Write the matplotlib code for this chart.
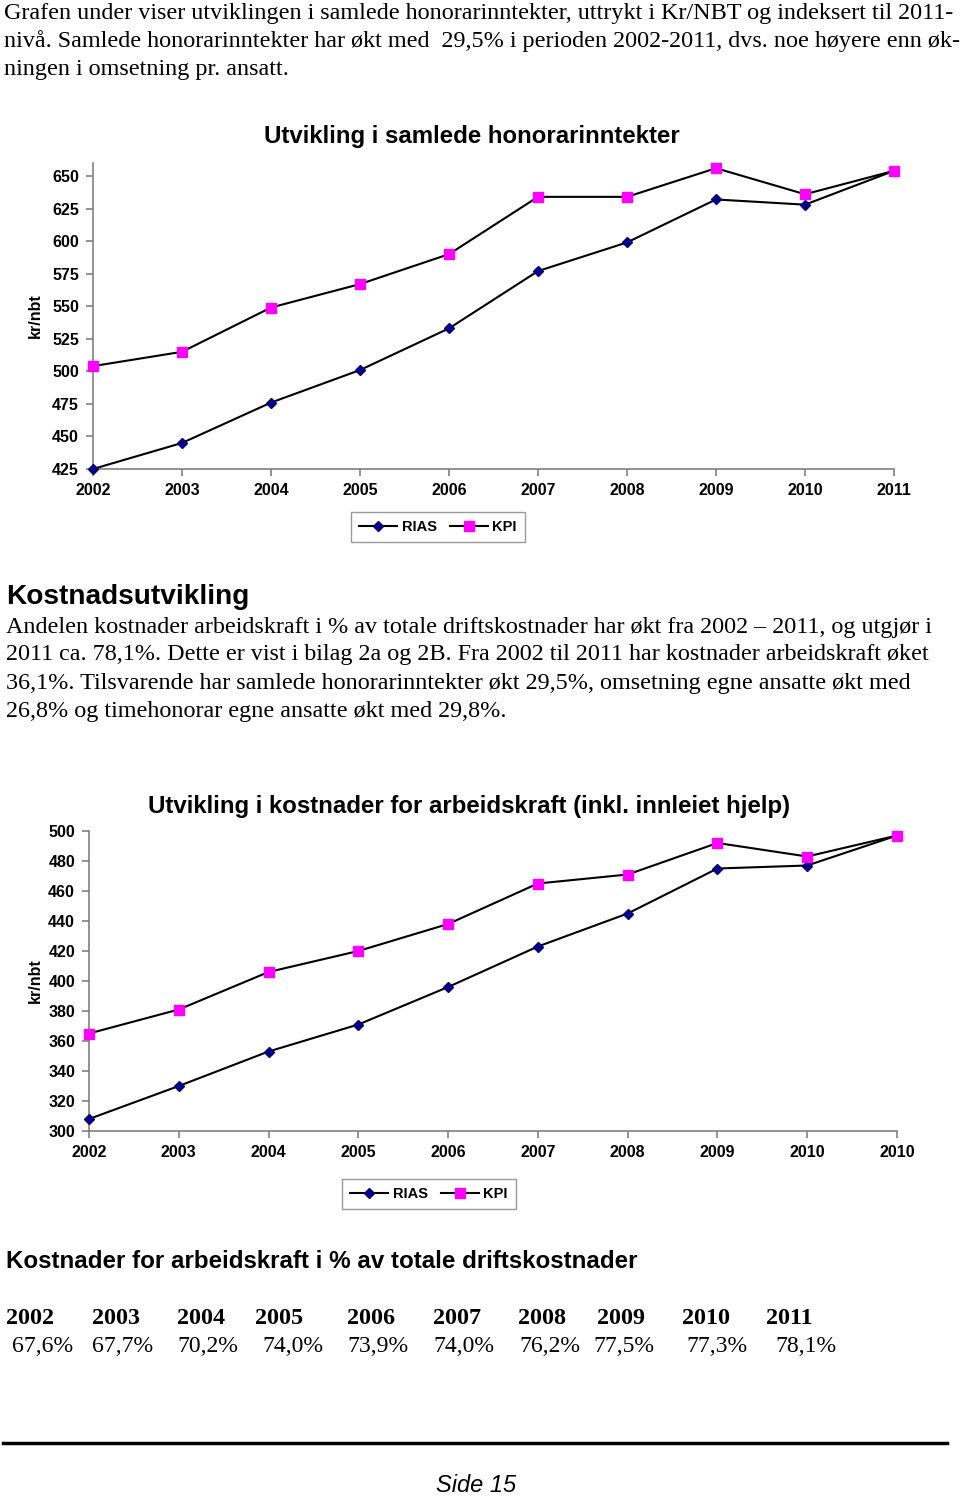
import matplotlib
matplotlib.use('Agg')
import matplotlib.pyplot as plt
from matplotlib.lines import Line2D

# data
years = [2002, 2003, 2004, 2005, 2006, 2007, 2008, 2009, 2010, 2011]
x_labels_1 = ['2002', '2003', '2004', '2005', '2006', '2007', '2008', '2009', '2010', '2011']
x_labels_2 = ['2002', '2003', '2004', '2005', '2006', '2007', '2008', '2009', '2010', '2010']

honorar_rias = [425, 445, 476, 501, 533, 577, 599, 632, 628, 654]
honorar_kpi = [504, 515, 549, 567, 590, 634, 634, 656, 636, 654]

arbeid_rias = [308, 330, 353, 371, 396, 423, 445, 475, 477, 497]
arbeid_kpi = [365, 381, 406, 420, 438, 465, 471, 492, 483, 497]

table_years = ['2002', '2003', '2004', '2005', '2006', '2007', '2008', '2009', '2010', '2011']
table_pct = ['67,6%', '67,7%', '70,2%', '74,0%', '73,9%', '74,0%', '76,2%', '77,5%', '77,3%', '78,1%']

intro_lines = [
    'Grafen under viser utviklingen i samlede honorarinntekter, uttrykt i Kr/NBT og indeksert til 2011-',
    'nivå. Samlede honorarinntekter har økt med  29,5% i perioden 2002-2011, dvs. noe høyere enn øk-',
    'ningen i omsetning pr. ansatt.',
]
para_lines = [
    'Andelen kostnader arbeidskraft i % av totale driftskostnader har økt fra 2002 \u2013 2011, og utgjør i',
    '2011 ca. 78,1%. Dette er vist i bilag 2a og 2B. Fra 2002 til 2011 har kostnader arbeidskraft øket',
    '36,1%. Tilsvarende har samlede honorarinntekter økt 29,5%, omsetning egne ansatte økt med',
    '26,8% og timehonorar egne ansatte økt med 29,8%.',
]

W, H = 960, 1496
SANS = 'Liberation Sans'
SERIF = 'Liberation Serif'
NAVY = '#000080'
PINK = '#FF00FF'
GREY = '#808080'

fig = plt.figure(figsize=(W / 100, H / 100), dpi=100)


def fx(x):
    return x / W


def fy(y):
    return 1 - y / H


def text(x, y, s, **kw):
    fig.text(fx(x), fy(y), s, **kw)


def line_chart(box, rias, kpi, ylim, yticks, xlabels, title, title_xy, legend_xy):
    left, top, right, bottom = box
    ax = fig.add_axes([fx(left), fy(bottom), fx(right) - fx(left), fy(top) - fy(bottom)])
    ax.plot(years, rias, color='black', lw=1.5, marker='D', ms=5.5,
            mfc=NAVY, mec=NAVY, clip_on=False, zorder=3)
    ax.plot(years, kpi, color='black', lw=1.5, marker='s', ms=6.8,
            mfc=PINK, mec=PINK, clip_on=False, zorder=4)
    ax.set_xlim(years[0], years[-1])
    ax.set_ylim(*ylim)
    ax.set_xticks(years)
    ax.set_xticklabels(xlabels)
    ax.set_yticks(yticks)
    for s in ['top', 'right']:
        ax.spines[s].set_visible(False)
    for s in ['left', 'bottom']:
        ax.spines[s].set_color(GREY)
        ax.spines[s].set_linewidth(1.2)
    ax.tick_params(axis='both', color=GREY, length=5, width=1.2, direction='out',
                   labelsize=11.5)
    ax.tick_params(axis='y', pad=5)
    ax.tick_params(axis='x', pad=5)
    for lab in ax.get_xticklabels() + ax.get_yticklabels():
        lab.set_fontfamily(SANS)
        lab.set_fontweight('bold')
    ax.set_ylabel('kr/nbt', fontfamily=SANS, fontweight='bold', fontsize=11.5)
    ax.yaxis.set_label_coords((43 - left) / (right - left), 0.5)
    text(title_xy[0], title_xy[1], title, fontfamily=SANS, fontweight='bold',
         fontsize=17.3, ha='center', va='center')
    handles = [
        Line2D([], [], color='black', lw=1.5, marker='D', ms=5.5, mfc=NAVY, mec=NAVY),
        Line2D([], [], color='black', lw=1.5, marker='s', ms=6.8, mfc=PINK, mec=PINK),
    ]
    leg = fig.legend(handles, ['RIAS', 'KPI'], loc='center',
                     bbox_to_anchor=(fx(legend_xy[0]), fy(legend_xy[1])),
                     ncol=2, frameon=True, fancybox=False, handlelength=2.6,
                     columnspacing=0.9, handletextpad=0.3, borderpad=0.55,
                     prop={'family': SANS, 'weight': 'bold', 'size': 10.5})
    leg.get_frame().set_edgecolor(GREY)
    leg.get_frame().set_linewidth(1.0)
    return ax


# intro text
for i, s in enumerate(intro_lines):
    text(4, 13 + 28 * i, s, fontfamily=SERIF, fontsize=17.4, va='center')

line_chart((93, 163, 894, 469), honorar_rias, honorar_kpi, (425, 660),
           range(425, 651, 25), x_labels_1, 'Utvikling i samlede honorarinntekter',
           (472, 136), (438, 527))

text(6, 597, 'Kostnadsutvikling', fontfamily=SANS, fontweight='bold', fontsize=20.2,
     va='center')
for i, s in enumerate(para_lines):
    text(6, 627 + 28 * i, s, fontfamily=SERIF, fontsize=17.4, va='center')

line_chart((89, 831, 897, 1131), arbeid_rias, arbeid_kpi, (300, 500),
           range(300, 501, 20), x_labels_2,
           'Utvikling i kostnader for arbeidskraft (inkl. innleiet hjelp)',
           (469, 806), (429, 1194))

text(6, 1262, 'Kostnader for arbeidskraft i % av totale driftskostnader', fontfamily=SANS,
     fontweight='bold', fontsize=17.4, va='center')

year_x = [6, 92, 177, 255, 347, 433, 518, 597, 682, 766]
pct_x = [12, 92, 177, 262, 347, 433, 519, 593, 686, 775]
for xp, s in zip(year_x, table_years):
    text(xp, 1318, s, fontfamily=SERIF, fontweight='bold', fontsize=17.4, va='center')
for xp, s in zip(pct_x, table_pct):
    text(xp, 1346, s, fontfamily=SERIF, fontsize=17.1, va='center')

fig.add_artist(Line2D([fx(3), fx(947)], [fy(1443), fy(1443)], color='black', lw=2.5))
text(476, 1485, 'Side 15', fontfamily=SANS, fontstyle='italic', fontsize=17,
     ha='center', va='center')

fig.savefig('out.png', dpi=100)
